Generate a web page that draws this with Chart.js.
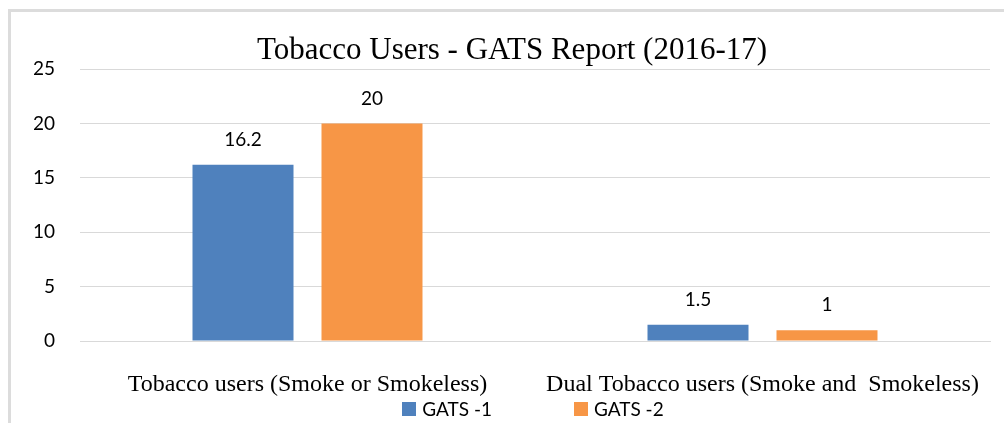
<!DOCTYPE html>
<html>
<head>
<meta charset="utf-8">
<script src="https://cdn.jsdelivr.net/npm/chart.js@4.4.1/dist/chart.umd.min.js"></script>
<style>
    body { margin: 0; background: #fff; }
    #wrap { position: relative; width: 1004px; height: 423px; overflow: hidden; }
    #frame { position: absolute; left: 8px; top: 9px; width: 1010px; height: 430px;
             border-left: 3px solid #dcdcdc; border-top: 3px solid #dcdcdc; }
    #chart { position: absolute; left: 0; top: 0; }
    #legend { position: absolute; left: 78px; width: 910px; top: 397px; display: flex;
              justify-content: center; gap: 82px; font-family: Lato, sans-serif; font-size: 19px; color: #000; }
    #legend span.item { display: flex; align-items: center; }
    #legend span.box { display: inline-block; width: 14px; height: 14px; margin-right: 6px; }
</style>
</head>
<body>
<div id="wrap">
    <div id="frame"></div>
    <canvas id="chart" width="1004" height="423"></canvas>
    <div id="legend"></div>
</div>
<script>
const categories = ["Tobacco users (Smoke or Smokeless)", "Dual Tobacco users (Smoke and  Smokeless)"];
const seriesNames = ["GATS -1", "GATS -2"];
const gats1 = [16.2, 1.5];
const gats2 = [20, 1];
const yTicks = [0, 5, 10, 15, 20, 25];
const colors = ["#4f81bd", "#f79646"];

// value labels above each bar
const barLabels = {
    id: "barLabels",
    afterDatasetsDraw(chart) {
        const ctx = chart.ctx;
        ctx.save();
        ctx.font = "19px Lato, sans-serif";
        ctx.fillStyle = "#000";
        ctx.textAlign = "center";
        ctx.textBaseline = "middle";
        chart.data.datasets.forEach((ds, i) => {
            chart.getDatasetMeta(i).data.forEach((bar, j) => {
                ctx.fillText(String(ds.data[j]), bar.x, bar.y - 25);
            });
        });
        ctx.restore();
    }
};

const chart = new Chart(document.getElementById("chart"), {
    type: "bar",
    data: {
        labels: categories,
        datasets: [
            { label: seriesNames[0], data: gats1, backgroundColor: colors[0] },
            { label: seriesNames[1], data: gats2, backgroundColor: colors[1] }
        ]
    },
    options: {
        responsive: false,
        animation: false,
        layout: { padding: { left: 34, right: 14, top: 0, bottom: 0 } },
        datasets: { bar: { categoryPercentage: 0.567, barPercentage: 0.783 } },
        plugins: {
            legend: { display: false },
            tooltip: { enabled: false },
            title: {
                display: true,
                text: "Tobacco Users - GATS Report (2016-17)",
                color: "#000",
                font: { family: "'Liberation Serif', serif", size: 31, weight: "normal", lineHeight: 1.2 },
                padding: { top: 32, bottom: 0 }
            }
        },
        scales: {
            x: {
                grid: { display: false },
                border: { display: true, color: "#d9d9d9", width: 1 },
                ticks: { color: "#000", padding: 21, font: { family: "'Liberation Serif', serif", size: 24 } },
                afterFit(scale) { scale.height = 82; }
            },
            y: {
                min: 0,
                max: 25,
                afterBuildTicks(scale) { scale.ticks = yTicks.map(v => ({ value: v })); },
                grid: { color: "#d9d9d9", drawTicks: false },
                border: { display: false },
                ticks: { color: "#000", padding: 25, font: { family: "Lato, sans-serif", size: 19 } },
                afterFit(scale) { scale.width = 46; }
            }
        }
    },
    plugins: [barLabels]
});

const legend = document.getElementById("legend");
chart.data.datasets.forEach(ds => {
    const item = document.createElement("span");
    item.className = "item";
    item.innerHTML = `<span class="box" style="background:${ds.backgroundColor}"></span>${ds.label}`;
    legend.appendChild(item);
});
</script>
</body>
</html>
